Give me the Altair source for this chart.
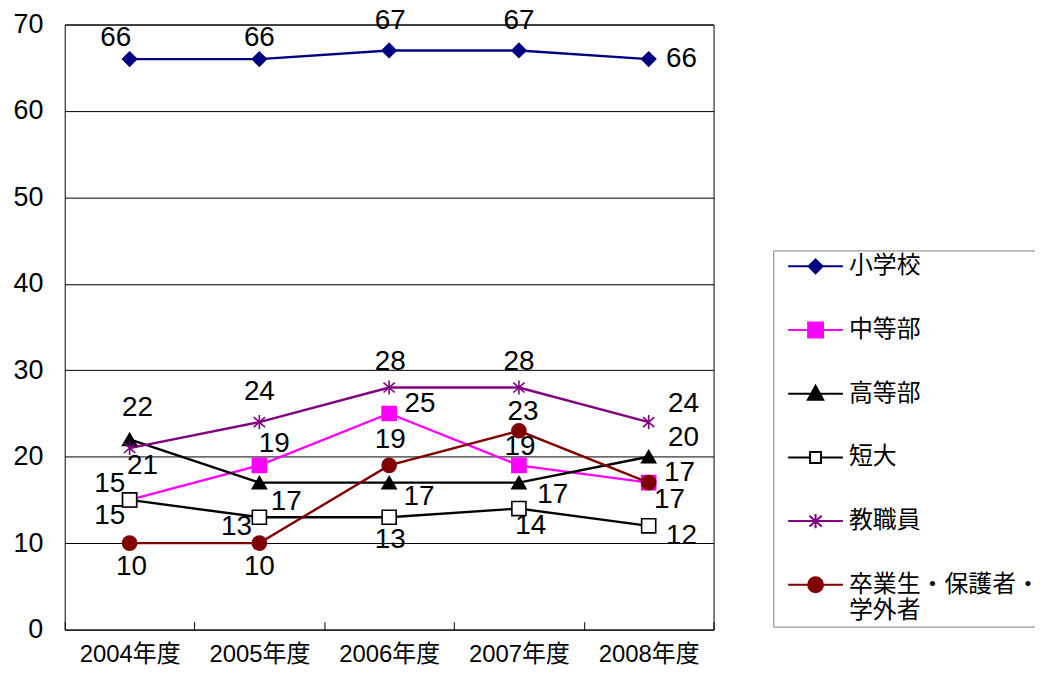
import altair as alt
import pandas as pd

years = ["2004年度", "2005年度", "2006年度", "2007年度", "2008年度"]
series = ["小学校", "中等部", "高等部", "短大", "教職員", "卒業生・保護者・学外者"]

v_elem = [66, 66, 67, 67, 66]
v_mid = [15, 19, 25, 19, 17]
v_high = [22, 17, 17, 17, 20]
v_jc = [15, 13, 13, 14, 12]
v_staff = [21, 24, 28, 28, 24]
v_alumni = [10, 10, 19, 23, 17]
values = [v_elem, v_mid, v_high, v_jc, v_staff, v_alumni]

# data-label placement (pixel offsets from each point)
lab_dx = [
    [-14, 0, 1, 0, 33],
    [-20, 15, 31, 1, 21],
    [8, 27, 30, 34, 35],
    [-20, -23, 1, 12, 33],
    [13, 0, 1, 0, 35],
    [2, 0, 1, 4, 31],
]
lab_dy = [
    [-21, -21, -30, -30, 0],
    [-16, -21, -10, -18, 17],
    [-32, 19, 14, 12, -19],
    [16, 10, 23, 18, 10],
    [18, -30, -26, -26, -18],
    [24, 24, -25, -19, -10],
]

line_colors = ["#000080", "#FF00FF", "#000000", "#000000", "#800080", "#800000"]
pt_fills = ["#000080", "#FF00FF", "#000000", "#FFFFFF", "#800080", "#800000"]
pt_strokes = ["#000080", "#FF00FF", "#000000", "#000000", "#800080", "#800000"]
star = "M0,-1V1M-0.8,-0.7L0.8,0.7M-0.8,0.7L0.8,-0.7"
pt_shapes = ["diamond", "square", "triangle-up", "square", star, "circle"]
pt_sizes = [200, 200, 190, 130, 160, 210]

leg_paths = [
    "M-2.5,0H2.5M0,-0.64L0.64,0L0,0.64L-0.64,0Z",
    "M-2.5,0H2.5M-0.68,-0.68H0.68V0.68H-0.68Z",
    "M-2.5,0H2.5M0,-0.72L0.7,0.55L-0.7,0.55Z",
    "M-2.5,0H-0.5M0.5,0H2.5M-0.5,-0.5H0.5V0.5H-0.5Z",
    "M-2.5,0H2.5M0,-0.65V0.65M-0.56,-0.5L0.56,0.5M-0.56,0.5L0.56,-0.5",
    "M-2.5,0H2.5M-0.68,0A0.68,0.68,0,1,0,0.68,0A0.68,0.68,0,1,0,-0.68,0Z",
]

rows = []
for s, name in enumerate(series):
    for i, yr in enumerate(years):
        rows.append({
            "year": yr, "idx": i, "series": name, "lseries": name, "value": values[s][i],
            "dx": lab_dx[s][i], "dy": lab_dy[s][i], "ord": s,
        })
df = pd.DataFrame(rows)

num_font = "Liberation Sans"
cjk_font = "Liberation Sans, Noto Sans CJK JP"

x_band = alt.X(
    "year:N", sort=years,
    scale=alt.Scale(type="band", paddingInner=0, paddingOuter=0),
    axis=alt.Axis(
        title=None, domain=False, grid=False, ticks=True, tickBand="extent",
        tickSize=8, tickColor="#000000", tickWidth=1, offset=-8,
        labelAngle=0, labelFont=cjk_font, labelFontSize=24, labelColor="#000000",
        labelPadding=13,
    ),
)
y_scale = alt.Scale(domain=[0, 70], nice=False, zero=True)
y_axis = alt.Axis(
    title=None, values=list(range(0, 71, 10)), grid=True, gridColor="#000000",
    gridWidth=1, gridOpacity=1, domain=False, ticks=False,
    labelFont=num_font, labelFontSize=27, labelColor="#000000", labelPadding=22,
)

base = alt.Chart(df).encode(x=x_band, y=alt.Y("value:Q", scale=y_scale, axis=y_axis))

lines = base.mark_line(strokeWidth=2.4).encode(
    stroke=alt.Stroke("series:N", sort=series,
                      scale=alt.Scale(domain=series, range=line_colors), legend=None),
)

points = base.mark_point(filled=True, opacity=1, strokeWidth=1.6).encode(
    shape=alt.Shape("series:N", scale=alt.Scale(domain=series, range=pt_shapes), legend=None),
    fill=alt.Fill("series:N", scale=alt.Scale(domain=series, range=pt_fills), legend=None),
    stroke=alt.Stroke("series:N", scale=alt.Scale(domain=series, range=pt_strokes), legend=None),
    size=alt.Size("series:N", scale=alt.Scale(domain=series, range=pt_sizes), legend=None),
    order=alt.Order("ord:Q"),
)

multi = "datum.label == '卒業生・保護者・学外者' ? ['卒業生・保護者・', '学外者'] : datum.label"
leg = alt.Legend(title=None, labelExpr=multi)
legend_layer = base.mark_point(filled=True, opacity=1, strokeWidth=2).encode(
    shape=alt.Shape("lseries:N", scale=alt.Scale(domain=series, range=leg_paths), legend=leg),
    fill=alt.Fill("lseries:N", scale=alt.Scale(domain=series, range=pt_fills), legend=leg),
    stroke=alt.Stroke("lseries:N", scale=alt.Scale(domain=series, range=pt_strokes), legend=leg),
).transform_filter("false")

inner = alt.layer(lines, points, legend_layer).resolve_scale(
    shape="independent", fill="independent", stroke="independent", size="independent"
)

labels = alt.Chart(df).transform_calculate(
    lx="datum.idx + datum.dx / 130.4",
    ly="datum.value - datum.dy * 70 / 608",
).mark_text(font=num_font, fontSize=28, color="#000000").encode(
    x=alt.X("lx:Q", scale=alt.Scale(domain=[-0.5, 4.5], nice=False, zero=False), axis=None),
    y=alt.Y("ly:Q", scale=y_scale, axis=y_axis),
    text=alt.Text("value:Q"),
)

chart = alt.layer(inner, labels).resolve_scale(x="independent").properties(
    width=652, height=608,
    autosize=alt.AutoSizeParams(type="none"),
    padding={"left": 57, "top": 15, "right": 323, "bottom": 38},
).configure_view(
    stroke="#000000", strokeWidth=1
).configure_legend(
    orient="none", legendX=712, legendY=227, strokeColor="#808080", fillColor="#FFFFFF",
    padding=4, symbolSize=484, symbolStrokeWidth=2, symbolOffset=26.5,
    labelFont="Noto Sans CJK JP", labelFontSize=24, labelColor="#000000", labelLimit=400,
    labelOffset=21.5, rowPadding=40, cornerRadius=0,
)

chart.save("out.html", embed_options={"renderer": "svg", "actions": False})
